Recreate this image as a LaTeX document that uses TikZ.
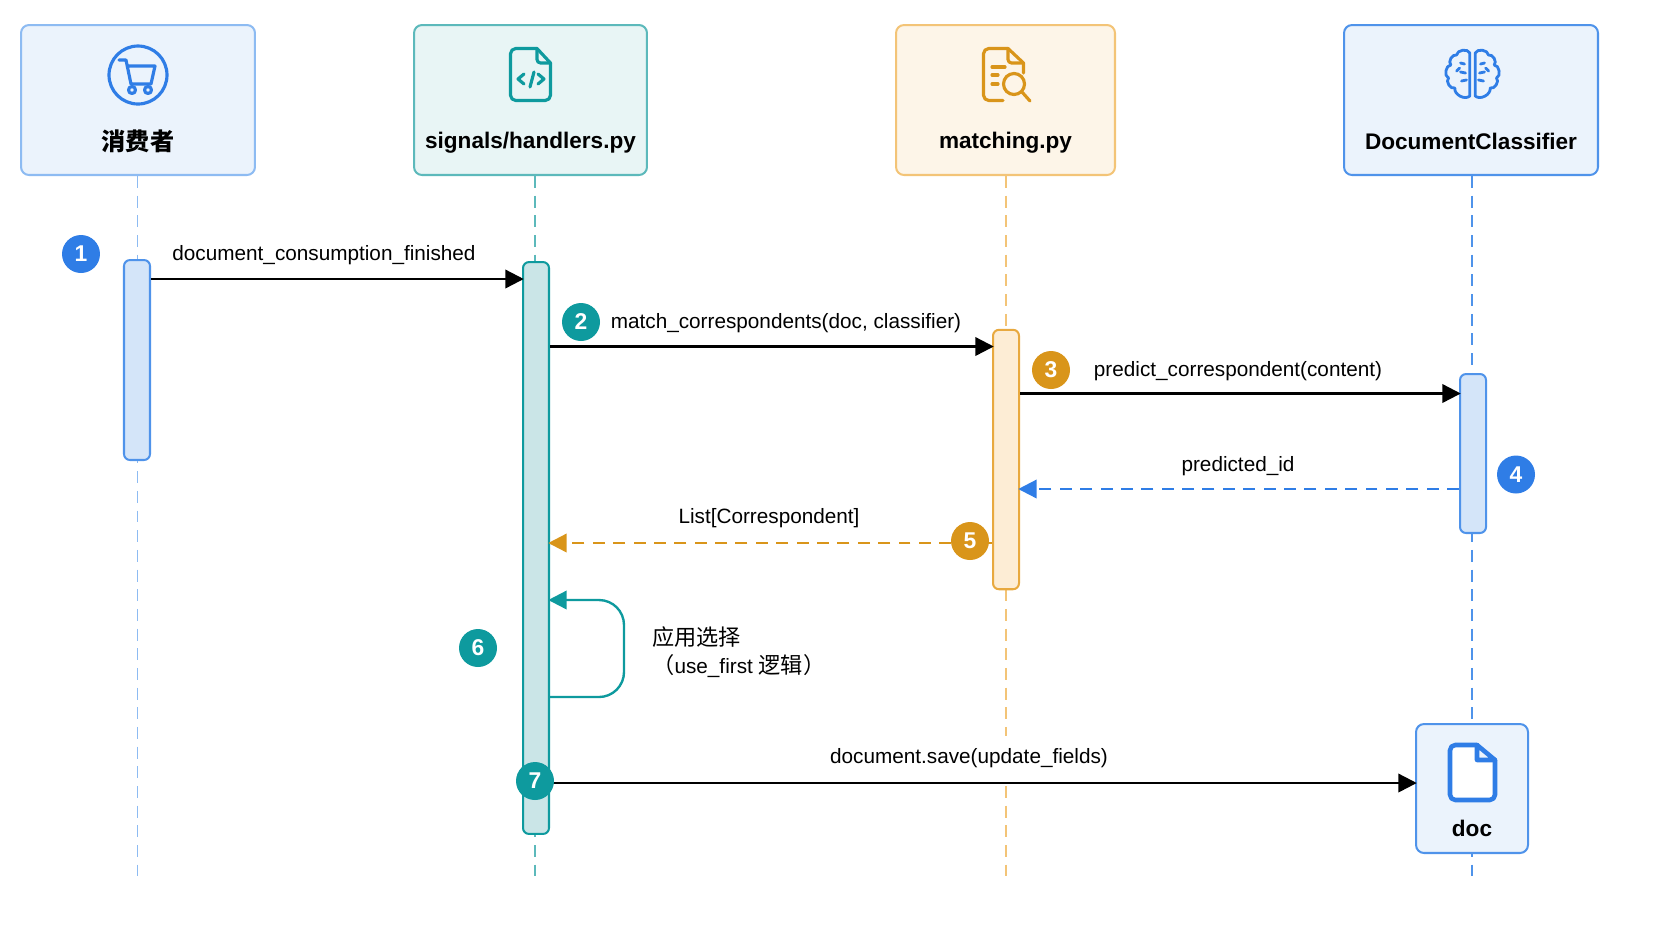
\documentclass[tikz,border=0pt]{standalone}
\usepackage{fontspec}
\setmainfont{Liberation Sans}
\newfontfamily\cjk[Scale=1.07]{Noto Sans CJK SC}
\usepackage{tikz}
\usetikzlibrary{arrows.meta}

\definecolor{bluedark}{HTML}{2F7DE6}
\definecolor{bluebox}{HTML}{4F93EA}
\definecolor{blueline}{HTML}{8DBBF2}
\definecolor{bluefill}{HTML}{EBF3FC}
\definecolor{bluebar}{HTML}{D4E5F9}
\definecolor{tealdark}{HTML}{0E9A9E}
\definecolor{tealline}{HTML}{5CB9BB}
\definecolor{tealfill}{HTML}{E8F5F5}
\definecolor{tealbar}{HTML}{CAE5E7}
\definecolor{golddark}{HTML}{D9951A}
\definecolor{goldbox}{HTML}{E8A93F}
\definecolor{goldline}{HTML}{F3C477}
\definecolor{goldfill}{HTML}{FDF5E8}
\definecolor{goldbar}{HTML}{FDEDD5}

\tikzset{
    box/.style={rectangle,draw,rounded corners=0.16cm,line width=1.15pt,inner sep=0pt,minimum height=3cm},
    bar/.style={rectangle,draw,rounded corners=0.12cm,line width=1.15pt,inner sep=0pt,minimum width=0.52cm},
    title/.style={font=\fontsize{12.85}{15}\selectfont\bfseries},
    msg/.style={font=\fontsize{11.8}{16}\selectfont,inner sep=0pt},
    badge/.style={circle,inner sep=0pt,minimum size=0.76cm,text=white,font=\fontsize{13}{15}\selectfont\bfseries},
    life/.style={line width=1pt,dash pattern=on 6.8pt off 4.4pt},
    arrow/.style={-{Triangle[length=10.5pt,width=10.5pt]},line width=1.35pt,shorten >=-1pt},
    dashmsg/.style={arrow,dash pattern=on 6.8pt off 4.8pt},
    icon/.style={line width=1.8pt,line join=round,line cap=round}
}

\begin{document}
\begin{tikzpicture}[x=0.02cm,y=-0.02cm]
    \useasboundingbox (0,0) rectangle (1672,941);

    % actors
    \node[box,minimum width=4.68cm,draw=blueline,fill=bluefill] (consumer) at (138,100) {};
    \node[box,minimum width=4.66cm,draw=tealline,fill=tealfill] (handlers) at (530.5,100) {};
    \node[box,minimum width=4.38cm,draw=goldline,fill=goldfill] (matching) at (1005.5,100) {};
    \node[box,minimum width=5.08cm,draw=bluebox,fill=bluefill] (classifier) at (1471,100) {};

    \node[title] (consumertext) at (138,141) {\cjk 消费者};
    \node[title] (handlerstext) at (530.5,143) {signals/handlers.py};
    \node[title] (matchingtext) at (1005.5,143) {matching.py};
    \node[title] (classifiertext) at (1471,141) {DocumentClassifier};

    % lifelines
    \coordinate (end1) at (137.5,876);
    \coordinate (end2) at (535,876);
    \coordinate (end3) at (1006,876);
    \coordinate (end4) at (1472,876);
    \draw[life,blueline] (end1 |- consumer.south) -- (end1);
    \draw[life,tealline] (end2 |- handlers.south) -- (end2);
    \draw[life,goldline] (end3 |- matching.south) -- (end3);
    \draw[life,bluebox] (end4 |- classifier.south) -- (end4);

    % activation bars
    \node[bar,minimum height=4cm,draw=bluebox,fill=bluebar] (bar1) at (137,360) {};
    \node[bar,minimum height=11.44cm,draw=tealdark,fill=tealbar] (bar2) at (536,548) {};
    \node[bar,minimum height=5.19cm,draw=goldbox,fill=goldbar] (bar3) at (1006,459.5) {};
    \node[bar,minimum height=3.18cm,draw=bluebox,fill=bluebar] (bar4) at (1473,453.5) {};

    \node[box,minimum width=2.24cm,minimum height=2.58cm,draw=bluebox,fill=bluefill] (doc) at (1472,788.5) {};
    \node[title] (doctext) at (1472,828) {doc};

    % cart
    \begin{scope}[icon,bluedark]
        \draw (138,75) circle (29);
        \draw (119,60) -- (126,60) -- (131,84) -- (151,84) -- (155,66) -- (127.5,66);
        \draw (132,90) circle (3.5);
        \draw (148,90) circle (3.5);
    \end{scope}

    % code file
    \begin{scope}[icon,tealdark]
        \draw[rounded corners=3pt] (537,48.5) -- (510.5,48.5) -- (510.5,100.5) -- (550.5,100.5) -- (550.5,63);
        \draw (537,48.5) -- (550.5,63);
        \draw[rounded corners=2pt] (537,48.5) -- (537,63) -- (550.5,63);
        \draw (524,74) -- (518,79) -- (524,84);
        \draw (538,74) -- (544,79) -- (538,84);
        \draw (534,72) -- (530,87);
    \end{scope}

    % search file
    \begin{scope}[icon,golddark]
        \draw[rounded corners=3pt] (1003,100.5) -- (983.5,100.5) -- (983.5,48.5) -- (1008,48.5);
        \draw (1008,48.5) -- (1023.5,63) -- (1023.5,73);
        \draw[rounded corners=2pt] (1008,48.5) -- (1008,63) -- (1023.5,63);
        \draw (992,67) -- (1005,67);
        \draw (992,75) -- (998,75);
        \draw (992,84) -- (998,84);
        \draw (1014,84) circle (10.5);
        \draw (1022,92) -- (1030,101);
    \end{scope}

    % brain
    \begin{scope}[icon,bluedark,line width=1.6pt]
        \foreach \s/\b in {1/right,-1/left} {
            \draw ({1472.5-2.7*\s},53) to[bend \b=75] ({1472.5-16*\s},55)
                to[bend \b=75] ({1472.5-21.7*\s},65) to[bend \b=80] ({1472.5-24*\s},78)
                to[bend \b=80] ({1472.5-17.7*\s},88) to[bend \b=70] ({1472.5-2.7*\s},96) -- cycle;
            \draw ({1472.5-8*\s},64) -- ({1472.5-12*\s},63);
            \draw ({1472.5-7*\s},73) -- ({1472.5-12*\s},72);
            \draw ({1472.5-6*\s},80) -- ({1472.5-11*\s},81);
            \draw ({1472.5-13*\s},68) -- ({1472.5-16*\s},71);
        }
    \end{scope}

    % doc file
    \begin{scope}[icon,bluedark,line width=2.6pt]
        \fill[white] (1450,745) rectangle (1477,800);
        \fill[white] (1477,760) rectangle (1495,800);
        \draw[rounded corners=3pt] (1477,745) -- (1450,745) -- (1450,800) -- (1495,800) -- (1495,760);
        \draw[fill=bluefill] (1477,745) -- (1495,760) -- (1477,760) -- cycle;
    \end{scope}

    % messages
    \path [arrow,black] (bar1.east |- 0,279) edge (bar2.west |- 0,279);
    \path [arrow,black] (bar2.east |- 0,346.5) edge (bar3.west |- 0,346.5);
    \path [arrow,black] (bar3.east |- 0,393.5) edge (bar4.west |- 0,393.5);
    \path [dashmsg,bluedark] (bar4.west |- 0,489) edge (bar3.east |- 0,489);
    \path [dashmsg,golddark] (bar3.west |- 0,543) edge (bar2.east |- 0,543);
    \draw [arrow,tealdark,rounded corners=0.5cm] (bar2.east |- 0,697) -- (624,697) -- (624,600) -- (bar2.east |- 0,600);
    \path [arrow,black] (bar2.east |- 0,783) edge (doc.west |- 0,783);

    \node[msg] (msg1) at (324,255) {document\_consumption\_finished};
    \node[msg] (msg2) at (786,323.5) {match\_correspondents(doc, classifier)};
    \node[msg] (msg3) at (1238,371) {predict\_correspondent(content)};
    \node[msg] (msg4) at (1238,466) {predicted\_id};
    \node[msg] (msg5) at (769,518.5) {List[Correspondent]};
    \node[msg,anchor=west,align=left] (msg6) at (652,652) {{\cjk 应用选择}\\{\cjk （}use\_first {\cjk 逻辑）}};
    \node[msg,fill=white,minimum height=0.9cm] (msg7) at (969,758) {document.save(update\_fields)};

    % step numbers
    \node[badge,fill=bluedark] (n1) at (81,254) {1};
    \node[badge,fill=tealdark] (n2) at (581,322) {2};
    \node[badge,fill=golddark] (n3) at (1051,370) {3};
    \node[badge,fill=bluedark] (n4) at (1516,474.5) {4};
    \node[badge,fill=golddark] (n5) at (970,541) {5};
    \node[badge,fill=tealdark] (n6) at (478,648) {6};
    \node[badge,fill=tealdark] (n7) at (535,781) {7};
\end{tikzpicture}
\end{document}
